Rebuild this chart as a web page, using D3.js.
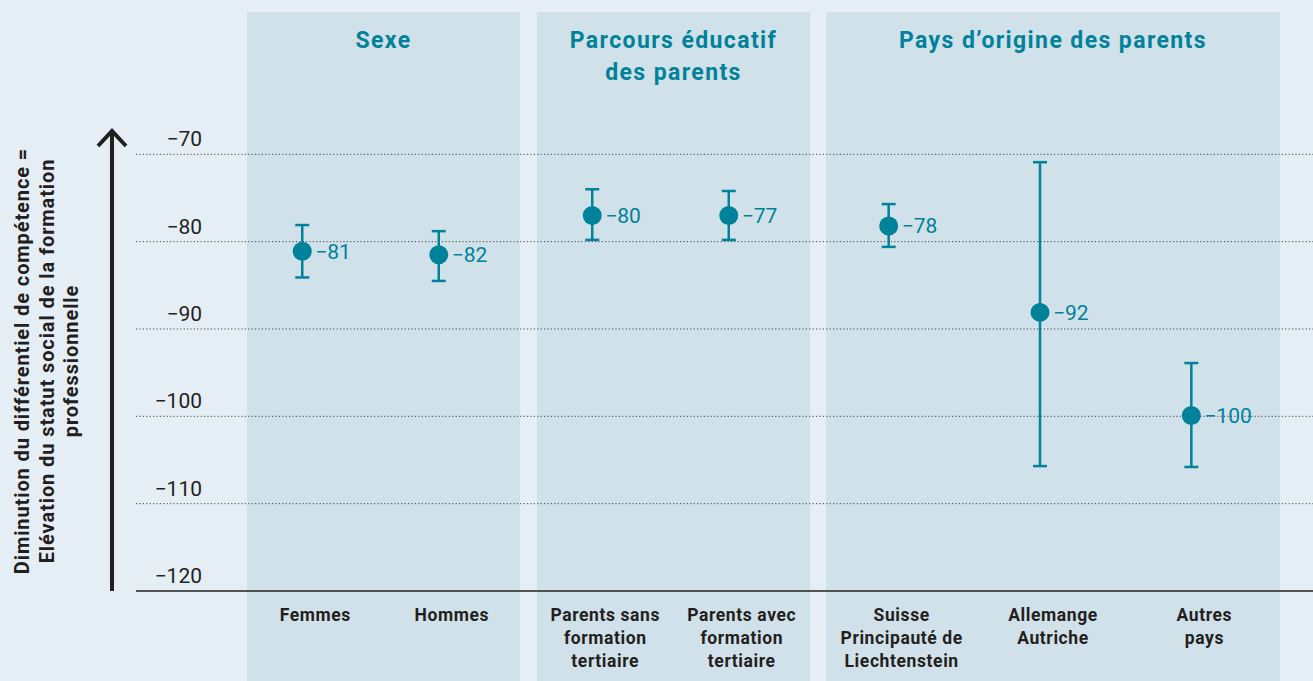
<!DOCTYPE html>
<html>
<head>
<meta charset="utf-8">
<script src="https://cdn.jsdelivr.net/npm/d3@7"></script>
<style>
  body { margin: 0; background: #e6eef5; }
  svg { display: block; font-family: Roboto, "Noto Sans", sans-serif; }
</style>
</head>
<body>
<div id="chart"></div>
<script>
const WIDTH  = 1313;
const HEIGHT = 681;
const TEAL   = '#00829a';
const DARK   = '#231f20';

// data
const groups      = ['Sexe', 'Parcours éducatif|des parents', 'Pays d’origine des parents'];
const categories  = ['Femmes', 'Hommes', 'Parents sans|formation|tertiaire', 'Parents avec|formation|tertiaire',
                     'Suisse|Principauté de|Liechtenstein', 'Allemange|Autriche', 'Autres|pays'];
const catGroup    = [0, 0, 1, 1, 2, 2, 2];
const values      = [-81.1, -81.5, -77.0, -77.0, -78.2, -88.1, -99.9];
const lows        = [-84.1, -84.5, -79.8, -79.8, -80.6, -105.7, -105.8];
const highs       = [-78.1, -78.8, -74.0, -74.2, -75.7, -70.9, -93.9];
const valueLabels = ['−81', '−82', '−80', '−77', '−78', '−92', '−100'];
const yTicks      = [-70, -80, -90, -100, -110, -120];
const yTitle      = ['Diminution du différentiel de compétence =',
                     'Elévation du statut social de la formation',
                     'professionnelle'];

// panel extents (layout)
const PANELS = [[247, 520], [537, 810], [826, 1280]];
const PANEL_TOP = 12;

const svg = d3.select('#chart').append('svg')
  .attr('width', WIDTH)
  .attr('height', HEIGHT);

const y = d3.scaleLinear().domain([-120, -70]).range([591, 154.3]);

// one band scale per group
const bands = groups.map((g, gi) => d3.scaleBand()
  .domain(categories.filter((c, i) => catGroup[i] === gi))
  .range(PANELS[gi]));
const xCenter = i => {
  const b = bands[catGroup[i]];
  return b(categories[i]) + b.bandwidth() / 2;
};
const POINT_SHIFT = -13;

// panels
svg.append('g').selectAll('rect')
  .data(PANELS)
  .join('rect')
    .attr('x', d => d[0])
    .attr('y', PANEL_TOP)
    .attr('width', d => d[1] - d[0])
    .attr('height', HEIGHT - PANEL_TOP)
    .attr('fill', '#d0e1ea');

// group headers
groups.forEach((g, gi) => {
  const cx = (PANELS[gi][0] + PANELS[gi][1]) / 2;
  const t = svg.append('text')
    .attr('y', 48)
    .attr('text-anchor', 'middle')
    .attr('fill', TEAL)
    .style('font-size', '23px')
    .style('font-weight', 700)
    .style('letter-spacing', '1.4px');
  g.split('|').forEach((line, li) => {
    t.append('tspan')
      .attr('x', cx)
      .attr('dy', li === 0 ? 0 : 32)
      .text(line);
  });
});

// grid lines
svg.append('g').selectAll('line')
  .data(yTicks)
  .join('line')
    .attr('x1', 136)
    .attr('x2', WIDTH)
    .attr('y1', d => y(d))
    .attr('y2', d => y(d))
    .attr('stroke', d => d === -120 ? DARK : '#444')
    .attr('stroke-width', d => d === -120 ? 1.5 : 1)
    .attr('stroke-dasharray', d => d === -120 ? null : '1.2,2.2');

// tick labels
svg.append('g').selectAll('text')
  .data(yTicks)
  .join('text')
    .attr('x', 202)
    .attr('y', d => y(d) - 8)
    .attr('text-anchor', 'end')
    .attr('fill', DARK)
    .style('font-size', '21px')
    .text(d => '−' + Math.abs(d));

// arrow
svg.append('line')
  .attr('x1', 112).attr('x2', 112)
  .attr('y1', y(-120)).attr('y2', 132)
  .attr('stroke', DARK)
  .attr('stroke-width', 4);
svg.append('path')
  .attr('d', 'M98,146 L112,131 L126,146')
  .attr('fill', 'none')
  .attr('stroke', DARK)
  .attr('stroke-width', 4);

// y-axis title
const titleG = svg.append('g')
  .attr('transform', 'translate(0,361) rotate(-90)');
yTitle.forEach((line, li) => {
  titleG.append('text')
    .attr('x', 0)
    .attr('y', 29 + li * 24.5)
    .attr('text-anchor', 'middle')
    .attr('fill', DARK)
    .style('font-size', '20px')
    .style('font-weight', 700)
    .style('letter-spacing', '0.9px')
    .text(line);
});

// category labels
categories.forEach((c, i) => {
  const t = svg.append('text')
    .attr('y', 621)
    .attr('text-anchor', 'middle')
    .attr('fill', DARK)
    .style('font-size', '17.5px')
    .style('font-weight', 700)
    .style('letter-spacing', '0.6px');
  c.split('|').forEach((line, li) => {
    t.append('tspan')
      .attr('x', xCenter(i))
      .attr('dy', li === 0 ? 0 : 23)
      .text(line);
  });
});

// error bars and points
const marks = svg.append('g').selectAll('g')
  .data(values.map((v, i) => i))
  .join('g')
    .attr('transform', i => 'translate(' + (xCenter(i) + POINT_SHIFT) + ',0)');

marks.append('line')
  .attr('y1', i => y(lows[i]))
  .attr('y2', i => y(highs[i]))
  .attr('stroke', TEAL)
  .attr('stroke-width', 2.5);
marks.selectAll('.cap')
  .data(i => [lows[i], highs[i]])
  .join('line')
    .attr('class', 'cap')
    .attr('x1', -7).attr('x2', 7)
    .attr('y1', d => y(d))
    .attr('y2', d => y(d))
    .attr('stroke', TEAL)
    .attr('stroke-width', 2.5);
marks.append('circle')
  .attr('cy', i => y(values[i]))
  .attr('r', 9.5)
  .attr('fill', TEAL);
marks.append('text')
  .attr('x', 13)
  .attr('y', i => y(values[i]))
  .attr('dy', '0.35em')
  .attr('fill', TEAL)
  .style('font-size', '21px')
  .text(i => valueLabels[i]);
</script>
</body>
</html>
